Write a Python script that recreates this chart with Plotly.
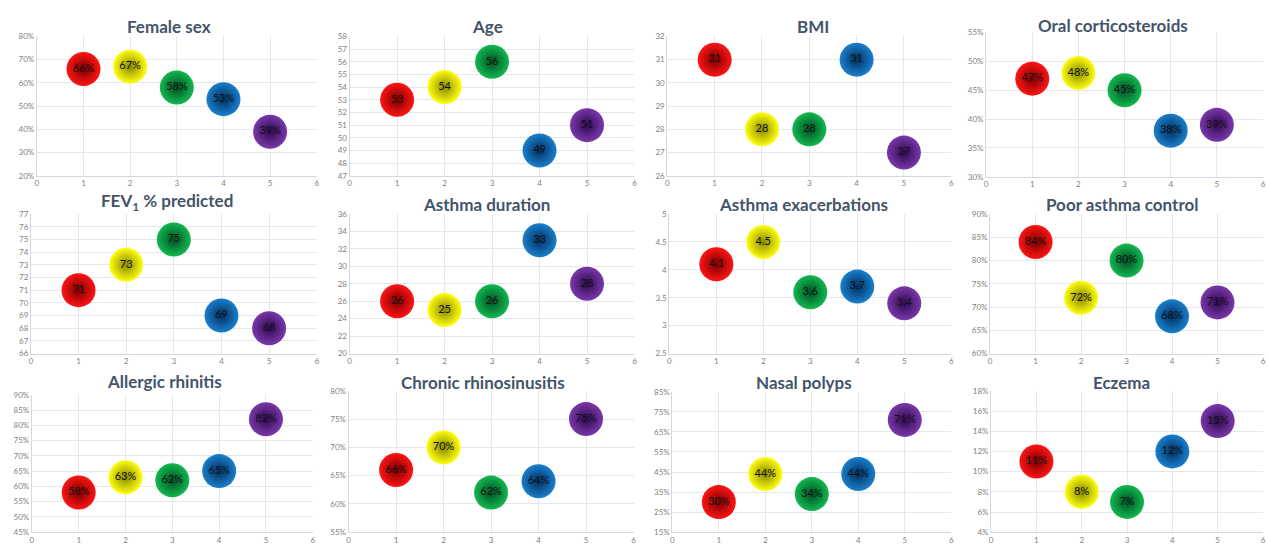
import plotly.graph_objects as go

# Groups (x positions) shared by every panel
groups = [1, 2, 3, 4, 5]

# Sphere colours per group: centre colour and darker rim colour
centre_colors = ["#ff1414", "#ffff10", "#12b850", "#1a7fcc", "#7a38ab"]
rim_colors = ["#7a0000", "#8a8a00", "#005024", "#002f5e", "#2e0a4f"]

# Panel values
female_sex = [0.66, 0.67, 0.58, 0.53, 0.39]
age = [53, 54, 56, 49, 51]
bmi = [31, 28, 28, 31, 27]
oral_corticosteroids = [0.47, 0.48, 0.45, 0.38, 0.39]
fev1_predicted = [71, 73, 75, 69, 68]
asthma_duration = [26, 25, 26, 33, 28]
asthma_exacerbations = [4.1, 4.5, 3.6, 3.7, 3.4]
poor_asthma_control = [0.84, 0.72, 0.80, 0.68, 0.71]
allergic_rhinitis = [0.58, 0.63, 0.62, 0.65, 0.82]
chronic_rhinosinusitis = [0.66, 0.70, 0.62, 0.64, 0.75]
nasal_polyps = [0.30, 0.44, 0.34, 0.44, 0.71]
eczema = [0.11, 0.08, 0.07, 0.12, 0.15]

W, H = 1268, 548

# title, values, is_percent, y range, y step, plot box (left, right, top, bottom px), title centre (x, y px)
panels = [
    ("Female sex", female_sex, True, (0.20, 0.80), 0.10, (35, 316, 32, 174), (168, 22)),
    ("Age", age, False, (47, 58), 1, (349, 635, 32, 174), (487, 22)),
    ("BMI", bmi, False, (26, 32), 1, (668, 953, 32, 174), (814, 22)),
    ("Oral corticosteroids", oral_corticosteroids, True, (0.30, 0.55), 0.05, (988, 1266, 28, 175), (1115, 21)),
    ("FEV<sub>1</sub> % predicted", fev1_predicted, False, (66, 77), 1, (29, 316, 213, 355), (166, 201)),
    ("Asthma duration", asthma_duration, False, (20, 36), 2, (349, 635, 213, 355), (486, 203)),
    ("Asthma exacerbations", asthma_exacerbations, False, (2.5, 5), 0.5, (670, 953, 213, 355), (805, 203)),
    ("Poor asthma control", poor_asthma_control, True, (0.60, 0.90), 0.05, (992, 1266, 213, 355), (1124, 203)),
    ("Allergic rhinitis", allergic_rhinitis, True, (0.45, 0.90), 0.05, (30, 312, 397, 537), (163, 384)),
    ("Chronic rhinosinusitis", chronic_rhinosinusitis, True, (0.55, 0.80), 0.05, (348, 634, 393, 537), (483, 385)),
    ("Nasal polyps", nasal_polyps, True, (0.15, 0.85), 0.10, (673, 953, 394, 537), (805, 385)),
    ("Eczema", eczema, True, (0.04, 0.18), 0.02, (993, 1266, 393, 537), (1124, 385)),
]

fig = go.Figure()
layout = {}
annotations = []

FONT = "Lato, Open Sans, sans-serif"
TICK_FONT = dict(family=FONT, size=8, color="#7f7f7f")
GRID = "#e4e7ec"
AXIS_LINE = "#d3d8e0"

for i, (title, vals, pct, yr, step, box, tpos) in enumerate(panels, start=1):
    left, right, top, bottom = box
    xa = "xaxis" if i == 1 else f"xaxis{i}"
    ya = "yaxis" if i == 1 else f"yaxis{i}"
    xref = "x" if i == 1 else f"x{i}"
    yref = "y" if i == 1 else f"y{i}"

    if pct:
        labels = [f"{round(v * 100)}%" for v in vals]
    else:
        labels = [f"{v:g}" for v in vals]

    # shaded spheres with the value written inside
    fig.add_trace(go.Scatter(
        x=groups, y=vals, mode="markers+text",
        text=labels, textposition="middle center",
        textfont=dict(family=FONT, size=11, color="#111111"),
        marker=dict(
            size=34, color=centre_colors,
            gradient=dict(type="radial", color=rim_colors),
            line=dict(width=0),
        ),
        xaxis=xref, yaxis=yref, showlegend=False, hoverinfo="skip",
        cliponaxis=False,
    ))

    yaxis_cfg = dict(
        domain=[1 - bottom / H, 1 - top / H], range=list(yr), dtick=step, tick0=yr[0],
        anchor=xref, showgrid=True, gridcolor=GRID, gridwidth=1,
        zeroline=False, showline=True, linecolor=AXIS_LINE, linewidth=1,
        ticks="", tickfont=TICK_FONT, fixedrange=True,
    )
    if pct:
        yaxis_cfg["tickformat"] = ".0%"

    layout[xa] = dict(
        domain=[left / W, right / W], range=[0, 6], dtick=1, tick0=0,
        anchor=yref, showgrid=True, gridcolor=GRID, gridwidth=1,
        zeroline=False, showline=True, linecolor=AXIS_LINE, linewidth=1,
        ticks="", tickfont=TICK_FONT, fixedrange=True,
    )
    layout[ya] = yaxis_cfg

    annotations.append(dict(
        text=f"<b>{title}</b>", x=tpos[0] / W, y=1 - tpos[1] / H,
        xref="paper", yref="paper", xanchor="center", yanchor="middle",
        showarrow=False,
        font=dict(family=FONT, size=17, color="#44546a"),
    ))

fig.update_layout(
    width=W, height=H,
    margin=dict(l=0, r=0, t=0, b=0),
    paper_bgcolor="white", plot_bgcolor="white",
    annotations=annotations,
    **layout,
)

fig.write_html("out.html", config={"displayModeBar": False})
